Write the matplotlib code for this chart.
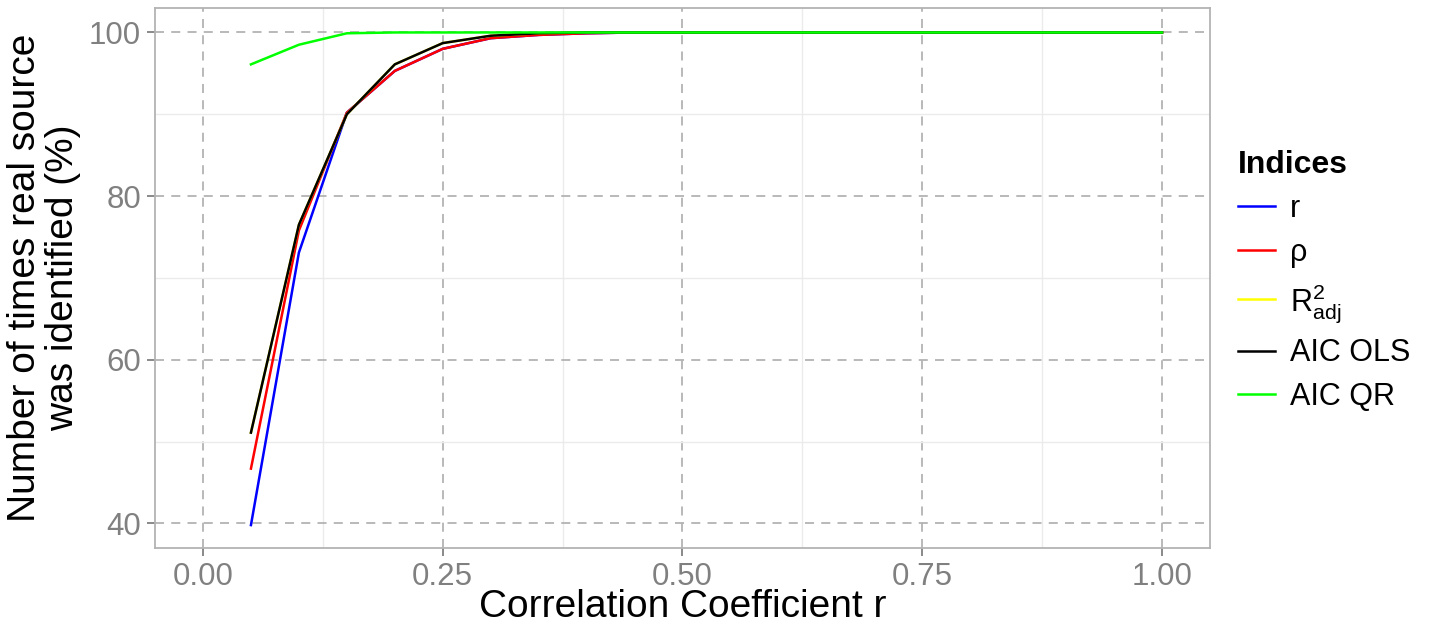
import matplotlib
import matplotlib.pyplot as plt
import numpy as np

matplotlib.use('Agg')

plt.rcParams['font.family'] = ['Liberation Sans', 'DejaVu Sans']
plt.rcParams['mathtext.fontset'] = 'custom'
plt.rcParams['mathtext.rm'] = 'Liberation Sans'
plt.rcParams['mathtext.it'] = 'Liberation Sans'

corr = np.round(np.arange(0.05, 1.0001, 0.05), 2)

idx_r = [39.8, 73.1, 90.2, 95.3, 98.0, 99.3, 99.7, 99.9] + [100.0] * 12
idx_rho = [46.7, 75.8, 90.2, 95.3, 98.0, 99.3, 99.7, 99.9] + [100.0] * 12
idx_r2adj = [51.1, 76.5, 90.0, 96.1, 98.7, 99.6, 99.9, 100.0] + [100.0] * 12
aic_ols = [51.1, 76.5, 90.0, 96.1, 98.7, 99.6, 99.9, 100.0] + [100.0] * 12
aic_qr = [96.1, 98.5, 99.9, 100.0, 100.0, 100.0, 100.0, 100.0] + [100.0] * 12

series = [
    ('r', idx_r, '#0000ff'),
    ('ρ', idx_rho, '#ff0000'),
    (r'R$^2_{\mathrm{adj}}$', idx_r2adj, '#ffff00'),
    ('AIC OLS', aic_ols, '#000000'),
    ('AIC QR', aic_qr, '#00ff00'),
]

fig = plt.figure(figsize=(14.29, 6.28), dpi=100)
ax = fig.add_axes([0.1085, 0.1274, 0.7382, 0.86])

for label, vals, color in series:
    ax.plot(corr, vals, '-', color=color, linewidth=1.8, label=label)

ax.set_xlim(-0.05, 1.05)
ax.set_ylim(37.0, 103.0)
ax.set_xticks([0, 0.25, 0.5, 0.75, 1.0])
ax.set_xticklabels(['0.00', '0.25', '0.50', '0.75', '1.00'])
ax.set_yticks([40, 60, 80, 100])
ax.set_xticks([0.125, 0.375, 0.625, 0.875], minor=True)
ax.set_yticks([50, 70, 90], minor=True)
ax.grid(which='major', color='#b3b3b3', linestyle=(0, (5, 4)), linewidth=1.3)
ax.grid(which='minor', color='#ebebeb', linestyle='-', linewidth=1.0)
ax.set_axisbelow(True)
for s in ax.spines.values():
    s.set_color('#b3b3b3')
    s.set_linewidth(1.3)
ax.tick_params(which='major', colors='#808080', labelsize=22.5, length=6, width=1.3, pad=4)
ax.tick_params(which='minor', length=0)

ax.set_xlabel('Correlation Coefficient r', fontsize=28, labelpad=-2)
ax.set_ylabel('Number of times real source\nwas identified (%)', fontsize=28,
              labelpad=6, linespacing=1.05)

leg = fig.legend(loc='upper left', bbox_to_anchor=(0.858, 0.78), frameon=False,
                 fontsize=22, title='Indices', handlelength=1.2, labelspacing=0.45,
                 handletextpad=0.5, borderaxespad=0)
leg.get_title().set_fontweight('bold')
leg.get_title().set_fontsize(23)
leg._legend_box.align = 'left'

fig.savefig('out.png', dpi=100)
